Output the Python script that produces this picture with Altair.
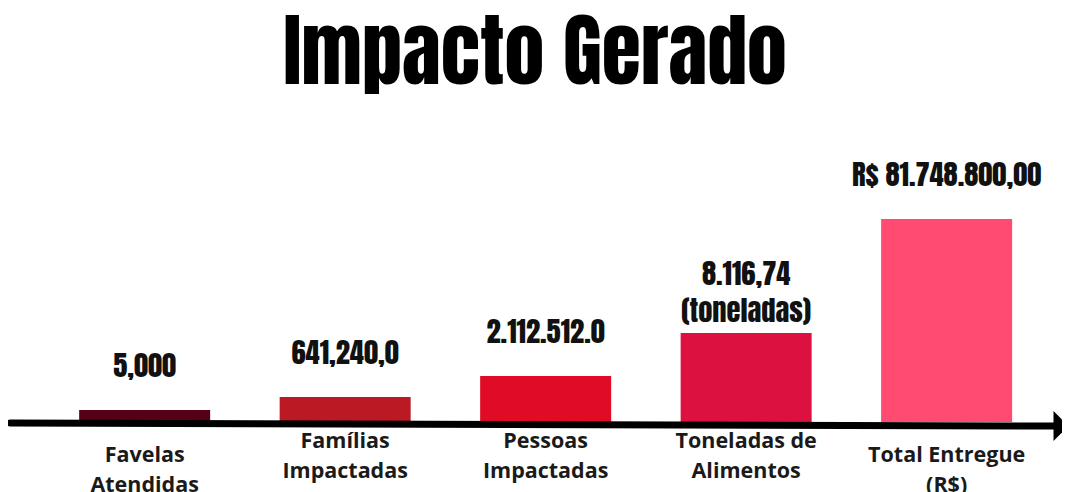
import altair as alt
import pandas as pd

# ---- data ----
titulo = "Impacto Gerado"
categorias = ["Favelas\nAtendidas", "Famílias\nImpactadas", "Pessoas\nImpactadas",
              "Toneladas de\nAlimentos", "Total Entregue\n(R$)"]
valores_rotulo = ["5,000", "641,240,0", "2.112.512.0", "8.116,74", "R$ 81.748.800,00"]
unidades = ["", "", "", "(toneladas)", ""]
altura_visual = [12, 25, 46, 89, 203]          # bar heights as drawn (not to scale with values)
cores = ["#560015", "#bb1a25", "#e00b25", "#dc1140", "#ff4a72"]
rotulos_baixos = ["Favelas\nAtendidas", "Total Entregue\n(R$)"]

df = pd.DataFrame({"categoria": categorias, "valor": valores_rotulo, "unidade": unidades,
                   "altura": altura_visual})

x_enc = alt.X("categoria:N", sort=categorias,
              scale=alt.Scale(paddingInner=0.3466, paddingOuter=0.3018, align=0.588), axis=None)
y_scale = alt.Scale(domain=[-76, 304], zero=False, nice=False)
y_enc = alt.Y("altura:Q", scale=y_scale, axis=None)

base = alt.Chart(df).encode(x=x_enc)

bars = base.mark_bar().encode(
    y=y_enc,
    color=alt.Color("categoria:N", scale=alt.Scale(domain=categorias, range=cores), legend=None),
)

val_kw = dict(font="Anton", fontSize=28.5, fontWeight="normal", color="#111111",
              baseline="alphabetic", align="center")

valores_simples = base.transform_filter(alt.datum.unidade == "").mark_text(dy=-33, **val_kw).encode(
    y=y_enc, text="valor:N")
valores_duplos = base.transform_filter(alt.datum.unidade != "").mark_text(dy=-48, **val_kw).encode(
    y=y_enc, text="valor:N")
valores_unidade = base.transform_filter(alt.datum.unidade != "").mark_text(dy=-11, **val_kw).encode(
    y=y_enc, text="unidade:N")

lab_kw = dict(font="Open Sans", fontSize=21.5, fontWeight="bold", color="#1a1a1a",
              baseline="top", lineBreak="\n", lineHeight=30, align="center")

lab_baixo = base.transform_filter(
    alt.FieldOneOfPredicate(field="categoria", oneOf=rotulos_baixos)
).mark_text(dy=23, **lab_kw).encode(y=alt.datum(0), text="categoria:N")

lab_alto = base.transform_filter(
    {"not": {"field": "categoria", "oneOf": rotulos_baixos}}
).mark_text(dy=9, **lab_kw).encode(y=alt.datum(0), text="categoria:N")

linha_df = pd.DataFrame({"eixo": [0], "titulo": [titulo]})
eixo = alt.Chart(linha_df).mark_rule(strokeWidth=7, color="#000000", strokeCap="round").encode(
    x=alt.value(2), x2=alt.value(1046), y=alt.datum(-1), y2=alt.datum(-4)
)
seta = alt.Chart(linha_df).mark_point(
    shape="M-0.5,-1L0.5,0L-0.5,1Z", size=900, filled=True, color="#000000", opacity=1
).encode(x=alt.value(1053), y=alt.datum(-4))

titulo_txt = alt.Chart(linha_df).mark_text(
    font="Anton", fontSize=80, fontWeight="normal", color="#000000",
    align="center", baseline="alphabetic"
).encode(x=alt.value(527), y=alt.value(-34), text="titulo:N")

chart = alt.layer(bars, valores_simples, valores_duplos, valores_unidade,
                  lab_baixo, lab_alto, eixo, seta, titulo_txt).properties(
    width=1054, height=380,
    autosize=alt.AutoSizeParams(type="none"),
    padding={"left": 0, "top": 110, "right": 0, "bottom": 0},
    background="#ffffff",
).configure_view(stroke=None)

chart.save("out.html", embed_options={"renderer": "svg", "actions": False})
